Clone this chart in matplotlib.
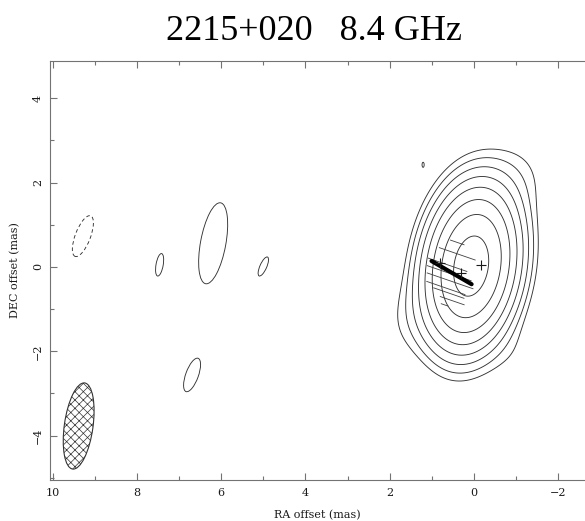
import numpy as np
import matplotlib
matplotlib.use('Agg')
import matplotlib.pyplot as plt
from matplotlib.patches import Ellipse
from matplotlib.ticker import MultipleLocator

# model components for the core: position (mas), peak, sigma along/across PA (mas), PA (deg, N through E)
comp_x = [0.07, 1.25, -0.95, -0.95]
comp_y = [0.02, -1.10, 2.05, -2.10]
comp_peak = [1.0, 0.007, 0.006, 0.003]
comp_smaj = [0.85, 0.65, 0.60, 0.55]
comp_smin = [0.48, 0.50, 0.50, 0.50]
comp_pa = [-9.0, -30.0, -20.0, 60.0]

# contour levels (fraction of peak), doubling
levels = [0.7 / 2 ** k for k in range(7, -1, -1)]

# isolated low-level islands: x, y, major, minor (mas), PA (deg), negative?
isl_x = [6.19, 7.46, 5.00, 6.69, 9.28, 1.21]
isl_y = [0.56, 0.05, 0.01, -2.56, 0.73, 2.42]
isl_maj = [1.95, 0.54, 0.49, 0.84, 1.03, 0.12]
isl_min = [0.60, 0.17, 0.16, 0.30, 0.36, 0.05]
isl_pa = [-10.5, -10.0, -24.0, -20.0, -21.0, 0.0]
isl_neg = [False, False, False, False, True, False]

# restoring beam
beam_x, beam_y = 9.38, -3.77
beam_maj, beam_min, beam_pa = 2.06, 0.68, -8.0

# polarization E-vectors: centre x, y (mas), length (mas)
pol_x = [0.40, 0.40, 0.63, 0.59, 0.57, 0.67, 0.60, 0.52, 0.70]
pol_y = [0.58, 0.31, 0.05, -0.15, -0.33, -0.50, -0.62, -0.80, -0.90]
pol_len = [0.34, 0.90, 0.97, 1.10, 1.15, 0.96, 0.76, 0.60, 0.17]
pol_pa = 71.0

# jet direction bar
bar_x = [1.01, 0.06]
bar_y = [0.14, -0.41]

# model-fit component positions
mk_x = [0.81, 0.30, -0.17]
mk_y = [0.09, -0.15, 0.05]

fig = plt.figure(figsize=(5.85, 5.21), dpi=100)
ax = fig.add_axes([50 / 585, 41 / 521, 535 / 585, 419 / 521])

gx = np.linspace(-3, 4, 600)
gy = np.linspace(-4, 4, 600)
X, Y = np.meshgrid(gx, gy)
Z = np.zeros_like(X)
for x0, y0, p, sa, sb, pa in zip(comp_x, comp_y, comp_peak, comp_smaj, comp_smin, comp_pa):
    t = np.radians(pa)
    dx, dy = X - x0, Y - y0
    u = dx * np.sin(t) + dy * np.cos(t)
    v = dx * np.cos(t) - dy * np.sin(t)
    Z += p * np.exp(-0.5 * (u ** 2 / sa ** 2 + v ** 2 / sb ** 2))

ax.contour(X, Y, Z, levels=levels, colors='0.2', linewidths=0.65)

for x0, y0, a, b, pa, neg in zip(isl_x, isl_y, isl_maj, isl_min, isl_pa, isl_neg):
    ax.add_patch(Ellipse((x0, y0), b, a, angle=-pa, fill=False, ec='0.2', lw=0.65,
                         ls=(0, (4, 3)) if neg else '-'))

plt.rcParams['hatch.linewidth'] = 0.5
ax.add_patch(Ellipse((beam_x, beam_y), beam_min, beam_maj, angle=-beam_pa,
                     fc='white', ec='0.2', lw=0.8, hatch='xxxx'))

t = np.radians(pol_pa)
for x0, y0, L in zip(pol_x, pol_y, pol_len):
    ddx, ddy = 0.5 * L * np.sin(t), 0.5 * L * np.cos(t)
    ax.plot([x0 - ddx, x0 + ddx], [y0 - ddy, y0 + ddy], color='0.25', lw=0.6)

ax.plot(bar_x, bar_y, color='black', lw=3.0, solid_capstyle='round')
ax.plot(mk_x, mk_y, '+', color='0.1', ms=7.5, mew=0.8)

ax.set_xlim(10.06, -2.63)
ax.set_ylim(-5.05, 4.88)
ax.xaxis.set_major_locator(MultipleLocator(2))
ax.xaxis.set_minor_locator(MultipleLocator(1))
ax.yaxis.set_major_locator(MultipleLocator(2))
ax.yaxis.set_minor_locator(MultipleLocator(1))
ax.spines['right'].set_visible(False)
for s in ['left', 'bottom', 'top']:
    ax.spines[s].set_color('0.45')
    ax.spines[s].set_linewidth(0.8)
ax.tick_params(which='both', direction='in', top=True, right=False, color='0.45', width=0.8,
               labelsize=8, labelcolor='0.1')
ax.tick_params(which='major', length=5)
ax.tick_params(which='minor', length=3)
ax.tick_params(axis='x', pad=6)
ax.tick_params(axis='y', labelrotation=90, pad=5)
for lab in ax.get_xticklabels() + ax.get_yticklabels():
    lab.set_family('DejaVu Serif')
for lab in ax.get_yticklabels():
    lab.set_va('center')

ax.set_xlabel('RA offset (mas)', family='DejaVu Serif', fontsize=8, color='0.1', labelpad=8)
ax.set_ylabel('DEC offset (mas)', family='DejaVu Serif', fontsize=8, color='0.1', labelpad=9)

fig.text(313.5 / 585, 1 - 40 / 521, '2215+020   8.4 GHz', family='Liberation Serif',
         fontsize=26, ha='center', va='baseline')

fig.savefig('out.png', dpi=100)
